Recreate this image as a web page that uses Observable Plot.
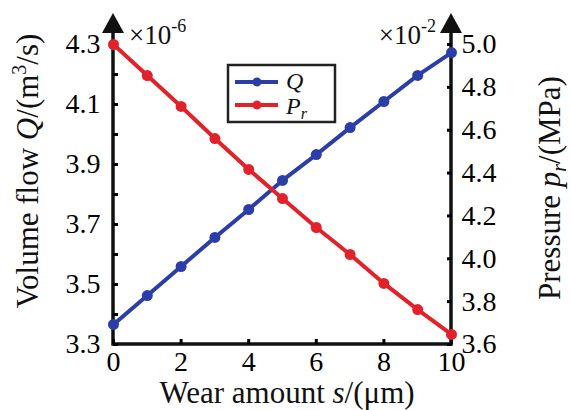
<!DOCTYPE html>
<html><head><meta charset="utf-8">
<script src="https://cdn.jsdelivr.net/npm/d3@7"></script>
<script src="https://cdn.jsdelivr.net/npm/@observablehq/plot@0.6"></script>
<style>body{margin:0;background:#fff} #chart{width:571px;height:410px}</style>
</head><body><div id="chart"></div>
<script>
// Data
const wear = [0, 1, 2, 3, 4, 5, 6, 7, 8, 9, 10];                 // s (μm)
const flowQ = [3.367, 3.463, 3.560, 3.657, 3.750, 3.847, 3.933, 4.023, 4.110, 4.197, 4.273]; // ×10^-6 m³/s
const pressurePr = [5.000, 4.855, 4.711, 4.561, 4.417, 4.281, 4.146, 4.020, 3.885, 3.763, 3.647]; // ×10^-2 MPa
const xTicks = [0, 2, 4, 6, 8, 10];
const leftLabelTicks = [3.3, 3.5, 3.7, 3.9, 4.1, 4.3];
const leftMinorTicks = [3.3, 3.4, 3.5, 3.6, 3.7, 3.8, 3.9, 4.0, 4.1, 4.2, 4.3];
const rightTicks = [3.6, 3.8, 4.0, 4.2, 4.4, 4.6, 4.8, 5.0];
const qDomain = [3.3, 4.3];
const pDomain = [3.6, 5.0];

const W = 571, H = 410;
const BLUE = "#2b3ea8", RED = "#e2222b";
const FONT = "'Liberation Serif', 'Times New Roman', serif";

const toQ = p => qDomain[0] + (p - pDomain[0]) * (qDomain[1] - qDomain[0]) / (pDomain[1] - pDomain[0]);
const fromQ = q => pDomain[0] + (q - qDomain[0]) * (pDomain[1] - pDomain[0]) / (qDomain[1] - qDomain[0]);

const rowsQ = wear.map((s, i) => ({s, v: flowQ[i]}));
const rowsP = wear.map((s, i) => ({s, v: toQ(pressurePr[i])}));

const plot = Plot.plot({
  width: W, height: H,
  marginLeft: 113, marginRight: 120, marginTop: 44, marginBottom: 66,
  style: {fontFamily: FONT, fontSize: "28px", color: "#000", background: "#fff", overflow: "visible"},
  x: {domain: [0, 10]},
  y: {domain: qDomain},
  marks: [
    Plot.axisX({ticks: xTicks, tickSize: -5, strokeWidth: 3, tickFormat: () => "", label: null}),
    Plot.axisX({ticks: xTicks, tickSize: 0, tickPadding: 7, fontSize: 28, label: null, tickFormat: d => String(d)}),
    Plot.axisY({anchor: "left", ticks: leftMinorTicks, tickSize: -5, strokeWidth: 3, tickFormat: () => "", label: null}),
    Plot.axisY({anchor: "left", ticks: leftLabelTicks, tickSize: 0, tickPadding: 13, fontSize: 28, label: null, tickFormat: d => d.toFixed(1)}),
    Plot.axisY({anchor: "right", ticks: rightTicks.map(toQ), tickSize: -5, strokeWidth: 3, tickFormat: () => "", label: null}),
    Plot.axisY({anchor: "right", ticks: rightTicks.map(toQ), tickSize: 0, tickPadding: 10, fontSize: 28, label: null, tickFormat: q => fromQ(q).toFixed(1)}),
    Plot.line(rowsQ, {x: "s", y: "v", stroke: BLUE, strokeWidth: 4}),
    Plot.dot(rowsQ, {x: "s", y: "v", r: 5.5, fill: BLUE}),
    Plot.line(rowsP, {x: "s", y: "v", stroke: RED, strokeWidth: 4}),
    Plot.dot(rowsP, {x: "s", y: "v", r: 5.5, fill: RED})
  ]
});

document.getElementById("chart").appendChild(plot);

const svg = d3.select(plot);
// drop the empty label texts of the tick-only axes
svg.selectAll("text").filter(function() { return this.textContent === ""; }).remove();

// Decorations: frame lines with arrowheads, titles, multipliers, legend
const xs = plot.scale("x"), ys = plot.scale("y");
const x0 = xs.apply(0), x1 = xs.apply(10);
const yb = ys.apply(qDomain[0]), yt = ys.apply(qDomain[1]);
const tip = yt - 31;

const frame = svg.insert("g", "g").attr("stroke", "#111").attr("stroke-width", 3.5).attr("fill", "none");
frame.append("line").attr("x1", x0).attr("x2", x0).attr("y1", yb + 1.75).attr("y2", tip + 12);
frame.append("line").attr("x1", x1).attr("x2", x1).attr("y1", yb + 1.75).attr("y2", tip + 12);
frame.append("line").attr("x1", x0).attr("x2", x1).attr("y1", yb).attr("y2", yb);
for (const ax of [x0, x1]) {
  svg.append("path")
    .attr("d", `M${ax},${tip} L${ax - 11},${tip + 20} L${ax + 11},${tip + 20} Z`)
    .attr("fill", "#111");
}

function richText(g, parts) {
  for (const p of parts) {
    const t = g.append("tspan").text(p.t);
    if (p.i) t.attr("font-style", "italic");
    if (p.fs) t.attr("font-size", p.fs);
    if (p.dy) t.attr("dy", p.dy);
  }
}

const T = svg.append("g").attr("font-family", FONT).attr("fill", "#111");

// X title
richText(T.append("text").attr("x", (x0 + x1) / 2 + 5).attr("y", yb + 59).attr("text-anchor", "middle").attr("font-size", 31),
  [{t: "Wear amount "}, {t: "s", i: true}, {t: "/(μm)"}]);

// Left title
richText(T.append("text").attr("transform", `translate(38,${(yb + yt) / 2 - 23}) rotate(-90)`).attr("text-anchor", "middle").attr("font-size", 31),
  [{t: "Volume flow "}, {t: "Q", i: true}, {t: "/(m"}, {t: "3", fs: 20, dy: -12}, {t: "/s)", dy: 12}]);

// Right title
richText(T.append("text").attr("transform", `translate(560,${(yb + yt) / 2 - 6}) rotate(-90)`).attr("text-anchor", "middle").attr("font-size", 31),
  [{t: "Pressure "}, {t: "p", i: true}, {t: "r", i: true, fs: 20, dy: 6}, {t: "/(MPa)", dy: -6}]);

// Multipliers
richText(T.append("text").attr("x", x0 + 16).attr("y", yt).attr("text-anchor", "start").attr("font-size", 27),
  [{t: "×10"}, {t: "-6", fs: 18, dy: -12}]);
richText(T.append("text").attr("x", x1 - 15).attr("y", yt).attr("text-anchor", "end").attr("font-size", 27),
  [{t: "×10"}, {t: "-2", fs: 18, dy: -12}]);

// Legend
const L = svg.append("g");
L.append("rect").attr("x", 228).attr("y", 65).attr("width", 107).attr("height", 57)
  .attr("fill", "#fff").attr("stroke", "#222").attr("stroke-width", 2.5);
const legendItems = [
  {label: "Q", sub: null, color: BLUE, y: 82, base: 89},
  {label: "P", sub: "r", color: RED, y: 105, base: 114}
];
for (const it of legendItems) {
  L.append("line").attr("x1", 235).attr("x2", 278).attr("y1", it.y).attr("y2", it.y)
    .attr("stroke", it.color).attr("stroke-width", 4);
  L.append("circle").attr("cx", 257).attr("cy", it.y).attr("r", 4.5).attr("fill", it.color);
  const parts = [{t: it.label, i: true}];
  if (it.sub) parts.push({t: it.sub, i: true, fs: 16, dy: 5});
  richText(L.append("text").attr("x", 286).attr("y", it.base).attr("text-anchor", "start")
    .attr("font-family", FONT).attr("font-size", 24).attr("fill", "#111"), parts);
}
</script>
</body></html>
